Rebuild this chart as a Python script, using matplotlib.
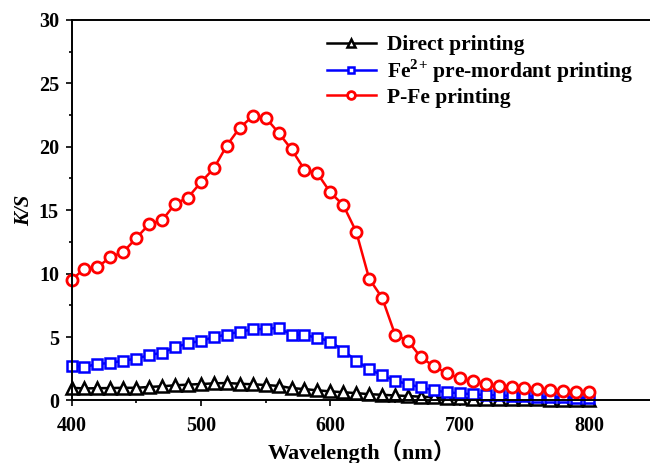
import matplotlib
matplotlib.use('Agg')
import matplotlib.pyplot as plt
from matplotlib.ticker import MultipleLocator

wavelength = list(range(400, 801, 10))

direct = [1.00, 0.95, 0.97, 0.98, 1.00, 1.00, 1.07, 1.12, 1.20, 1.25,
          1.30, 1.35, 1.38, 1.32, 1.28, 1.22, 1.15, 0.98, 0.90, 0.80,
          0.72, 0.65, 0.58, 0.50, 0.45, 0.40, 0.35, 0.30, 0.25, 0.20,
          0.18, 0.15, 0.13, 0.12, 0.10, 0.09, 0.08, 0.07, 0.06, 0.05,
          0.05]

fe_premordant = [2.75, 2.64, 2.88, 2.96, 3.14, 3.30, 3.57, 3.77, 4.20, 4.50,
                 4.70, 4.99, 5.20, 5.43, 5.60, 5.64, 5.72, 5.20, 5.14, 4.96,
                 4.65, 3.93, 3.14, 2.46, 2.00, 1.57, 1.28, 1.04, 0.80, 0.65,
                 0.57, 0.49, 0.43, 0.41, 0.36, 0.33, 0.30, 0.27, 0.25, 0.22,
                 0.20]

p_fe = [9.5, 10.4, 10.5, 11.3, 11.7, 12.8, 13.9, 14.2, 15.5, 16.0,
        17.2, 18.3, 20.1, 21.5, 22.4, 22.3, 21.1, 19.8, 18.2, 17.9,
        16.4, 15.4, 13.3, 9.6, 8.1, 5.2, 4.7, 3.4, 2.7, 2.15,
        1.75, 1.5, 1.3, 1.17, 1.09, 1.0, 0.93, 0.83, 0.75, 0.67,
        0.67]

labels = ['Direct printing', 'Fe$^{2}$$^{+}$ pre-mordant printing', 'P-Fe printing']

plt.rcParams['font.family'] = ['Liberation Serif', 'Noto Sans CJK SC']
plt.rcParams['font.weight'] = 'bold'
plt.rcParams['mathtext.fontset'] = 'custom'
plt.rcParams['mathtext.rm'] = 'Liberation Serif:bold'
plt.rcParams['mathtext.bf'] = 'Liberation Serif:bold'

fig = plt.figure(figsize=(6.5, 4.63), dpi=100)
ax = fig.add_axes([0.11, 0.135, 0.892, 0.822])

ax.plot(wavelength, direct, color='black', marker='^', ms=8, mfc='white',
        mew=1.8, lw=1.8, label=labels[0], clip_on=False)
ax.plot(wavelength, fe_premordant, color='#0000FF', marker='s', ms=6.5, mfc='white',
        mew=1.8, lw=1.8, label=labels[1], clip_on=False)
ax.plot(wavelength, p_fe, color='#FF0000', marker='o', ms=8, mfc='white',
        mew=2, lw=1.8, label=labels[2], clip_on=False)

ax.set_xlim(400, 848)
ax.set_ylim(0, 30)
ax.xaxis.set_major_locator(MultipleLocator(100))
ax.xaxis.set_minor_locator(MultipleLocator(50))
ax.yaxis.set_major_locator(MultipleLocator(5))
ax.yaxis.set_minor_locator(MultipleLocator(2.5))
ax.tick_params(which='major', direction='out', length=4, width=1.2, labelsize=14.5)
ax.tick_params(axis='x', which='major', pad=7)
ax.tick_params(axis='y', which='major', pad=5)
ax.tick_params(which='minor', direction='out', length=2.5, width=1.2)
ax.tick_params(top=False, right=False)
for s in ['left', 'bottom', 'top']:
    ax.spines[s].set_linewidth(1.4)
ax.spines['right'].set_visible(False)

ax.set_ylabel('K/S', fontsize=15, fontweight='bold', style='italic', labelpad=3)
ax.set_xlabel('Wavelength（nm）', fontsize=16, fontweight='bold', labelpad=3)

ax.legend(loc='upper left', bbox_to_anchor=(0.414, 1.0), frameon=False, fontsize=15.5,
          markerscale=0.7, handlelength=2.3, handletextpad=0.5, labelspacing=0.12,
          borderaxespad=0.3)

plt.savefig('out.png', dpi=100)
